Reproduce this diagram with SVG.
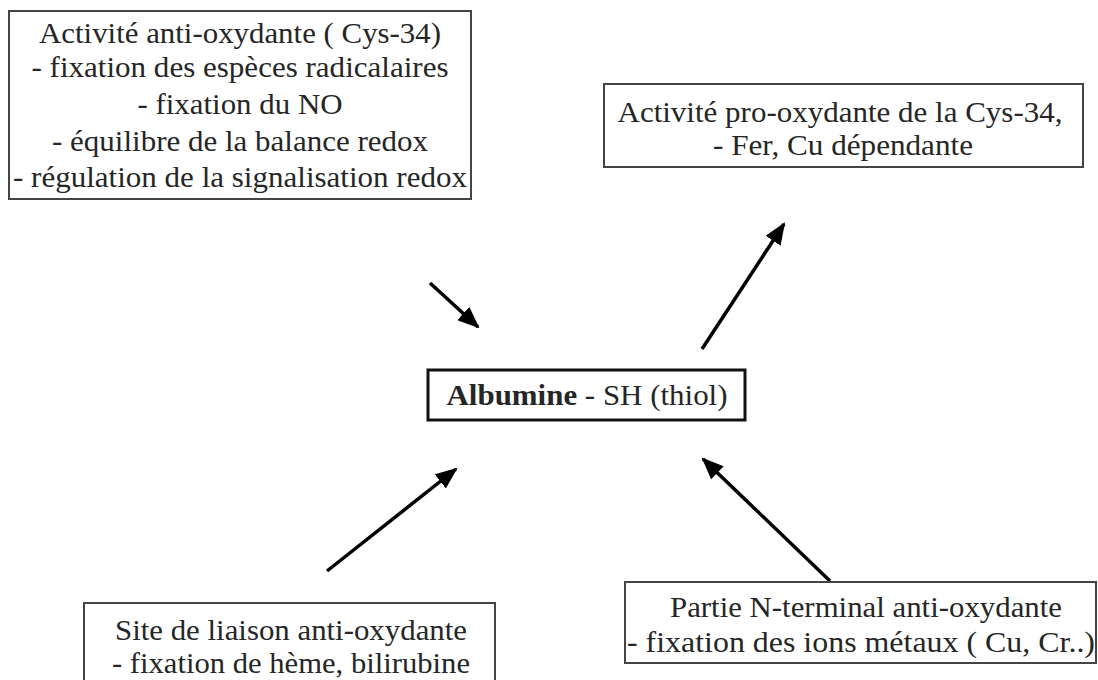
<svg xmlns="http://www.w3.org/2000/svg" width="1098" height="680" viewBox="0 0 1098 680">
<style>
.box{fill:#fff;stroke:#444;stroke-width:2}
.main{fill:#fff;stroke:#111;stroke-width:3}
.t{font-family:"Liberation Serif","Times New Roman",serif;font-size:29px;fill:#262626;text-anchor:middle;dominant-baseline:central}
.arr{stroke:#000;stroke-width:3.5;fill:none;marker-end:url(#ah)}
</style>
<defs>
<marker id="ah" markerUnits="userSpaceOnUse" viewBox="0 0 22 18" refX="20" refY="9" markerWidth="22" markerHeight="18" orient="auto">
<path d="M0,0 L22,9 L0,18 Z" fill="#000"/>
</marker>
</defs>
<rect width="1098" height="680" fill="#fff"/>
<g id="connectors">
<line class="arr" x1="430" y1="283" x2="478" y2="327"/>
<line class="arr" x1="702" y1="349" x2="784" y2="224"/>
<line class="arr" x1="327" y1="571" x2="456" y2="469"/>
<line class="arr" x1="830" y1="581" x2="703" y2="459"/>
</g>
<g id="node-antioxydante-cys">
<rect class="box" x="9" y="11" width="462" height="188"/>
<text class="t" x="240" y="33" textLength="402" lengthAdjust="spacingAndGlyphs">Activité anti-oxydante ( Cys-34)</text>
<text class="t" x="240" y="67" textLength="417" lengthAdjust="spacingAndGlyphs">- fixation des espèces radicalaires</text>
<text class="t" x="240" y="104" textLength="205" lengthAdjust="spacingAndGlyphs">- fixation du NO</text>
<text class="t" x="240" y="141" textLength="376" lengthAdjust="spacingAndGlyphs">-  équilibre de la balance redox</text>
<text class="t" x="240" y="177" textLength="454" lengthAdjust="spacingAndGlyphs">- régulation de la signalisation redox</text>
</g>
<g id="node-prooxydante">
<rect class="box" x="604" y="84" width="479" height="83"/>
<text class="t" x="840" y="112" textLength="445" lengthAdjust="spacingAndGlyphs">Activité pro-oxydante de la Cys-34,</text>
<text class="t" x="843" y="145" textLength="260" lengthAdjust="spacingAndGlyphs">- Fer, Cu dépendante</text>
</g>
<g id="node-albumine">
<rect class="main" x="428" y="370" width="317" height="50"/>
<text class="t" x="587" y="395" textLength="281" lengthAdjust="spacingAndGlyphs"><tspan font-weight="bold">Albumine</tspan> - SH (thiol)</text>
</g>
<g id="node-site-liaison">
<rect class="box" x="84" y="603" width="411" height="90"/>
<text class="t" x="291" y="630" textLength="352" lengthAdjust="spacingAndGlyphs">Site de liaison anti-oxydante</text>
<text class="t" x="291" y="663" textLength="358" lengthAdjust="spacingAndGlyphs">- fixation de hème, bilirubine</text>
</g>
<g id="node-n-terminal">
<rect class="box" x="625" y="582" width="471" height="81"/>
<text class="t" x="866" y="607" textLength="392" lengthAdjust="spacingAndGlyphs">Partie N-terminal anti-oxydante</text>
<text class="t" x="861" y="642" textLength="468" lengthAdjust="spacingAndGlyphs">- fixation des ions métaux ( Cu, Cr..)</text>
</g>
</svg>
